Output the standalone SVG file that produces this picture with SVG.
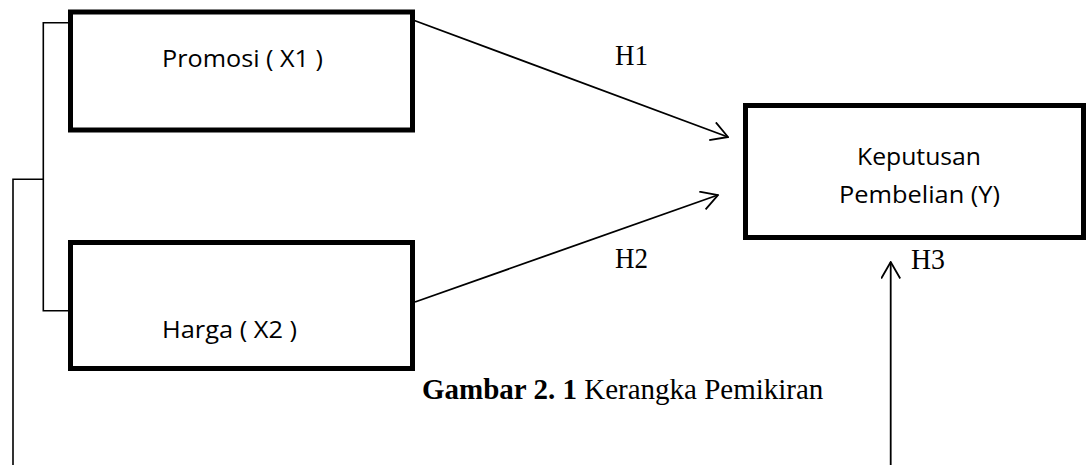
<svg xmlns="http://www.w3.org/2000/svg" width="1086" height="465" viewBox="0 0 1086 465">
<style>
.box{fill:#fff;stroke:#000;stroke-width:5}
.lbl{font-family:"Open Sans","Noto Sans",sans-serif;font-size:23px;fill:#000}
.h{font-family:"Liberation Serif","Times New Roman",serif;font-size:30px;fill:#000}
.cap{font-family:"Liberation Serif","Times New Roman",serif;font-size:29px;fill:#000}
.ln{stroke:#000;stroke-width:1.8;fill:none}
.br{stroke:#000;stroke-width:1.6;fill:none}
</style>
<defs>
<marker id="arr" viewBox="0 0 20 20" markerUnits="userSpaceOnUse" markerWidth="20" markerHeight="20" refX="18.5" refY="10" orient="auto">
<path d="M2,0.5 L18.5,10 L2,19.5" fill="none" stroke="#000" stroke-width="1.8"/>
</marker>
</defs>
<g id="connectors">
<path class="br" d="M68,22.7 H43.3 V310.7 H68"/>
<path class="br" d="M43.3,179.3 H13 V465"/>
<line class="ln" x1="413" y1="20" x2="728" y2="137" marker-end="url(#arr)"/>
<line class="ln" x1="415" y1="302" x2="718" y2="195" marker-end="url(#arr)"/>
<line class="ln" x1="890.7" y1="465" x2="890.7" y2="262" marker-end="url(#arr)"/>
<text class="h" x="615" y="65" textLength="33" lengthAdjust="spacingAndGlyphs">H1</text>
<text class="h" x="615" y="268" textLength="33" lengthAdjust="spacingAndGlyphs">H2</text>
<text class="h" x="911" y="269" textLength="34" lengthAdjust="spacingAndGlyphs">H3</text>
</g>
<g id="promosi">
<rect class="box" x="70.5" y="12" width="342" height="118"/>
<text class="lbl" x="162" y="67" textLength="161" lengthAdjust="spacingAndGlyphs">Promosi ( X1 )</text>
</g>
<g id="harga">
<rect class="box" x="70.5" y="242.5" width="342" height="126"/>
<text class="lbl" x="162" y="338" textLength="135" lengthAdjust="spacingAndGlyphs">Harga ( X2 )</text>
</g>
<g id="keputusan">
<rect class="box" x="745.5" y="105.5" width="338" height="132"/>
<text class="lbl" x="857" y="165" textLength="124" lengthAdjust="spacingAndGlyphs">Keputusan</text>
<text class="lbl" x="839" y="203" textLength="161" lengthAdjust="spacingAndGlyphs">Pembelian (Y)</text>
</g>
<g id="caption">
<text class="cap" x="422" y="399"><tspan font-weight="bold">Gambar 2. 1</tspan> Kerangka Pemikiran</text>
</g>
</svg>
